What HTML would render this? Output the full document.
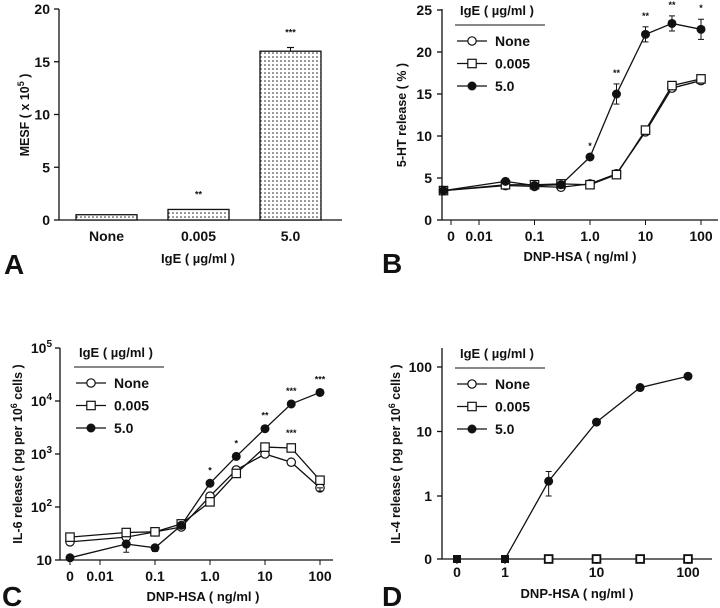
<!DOCTYPE html>
<html><head><meta charset="utf-8">
<style>
html,body{margin:0;padding:0;background:#fff;}
svg{display:block;font-family:"Liberation Sans",Arial,sans-serif;font-weight:bold;}
</style></head>
<body>
<svg id="fig" width="720" height="608" viewBox="0 0 720 608" xmlns="http://www.w3.org/2000/svg">
<defs>
<pattern id="dots" width="4" height="4" patternUnits="userSpaceOnUse">
<rect width="4" height="4" fill="#fff"/><circle cx="1" cy="1" r="0.8" fill="#222"/>
</pattern>
</defs>
</svg>
<script>
// ---------- data ----------
const barCats = ["None","0.005","5.0"];
const barVals = [0.5, 1.0, 16.0];
const barErr = [0, 0, 0.35];
const barStars = ["", "**", "***"];
const aTicks = [0,5,10,15,20];

const doseB = [0, 0.03, 0.1, 0.3, 1, 3, 10, 30, 100];
const bNone = [3.5, 4.1, 4.0, 3.9, 4.3, 5.5, 10.5, 15.7, 16.6];
const bLow = [3.5, 4.2, 4.2, 4.3, 4.2, 5.4, 10.7, 16.0, 16.8];
const bHigh = [3.5, 4.6, 4.1, 4.2, 7.5, 15.0, 22.1, 23.4, 22.7];
const bHighErr = [0, 0, 0, 0, 0, 1.2, 0.9, 0.9, 1.2];
const bStars = ["", "", "", "", "*", "**", "**", "**", "*"];
const bTicks = [0,5,10,15,20,25];
const logXTickLabels = ["0","0.01","0.1","1.0","10","100"];
const logXTickVals = [0,0.01,0.1,1,10,100];

const doseC = [0, 0.03, 0.1, 0.3, 1, 3, 10, 30, 100];
const cNone = [22, 27, 34, 42, 160, 500, 1000, 700, 230];
const cLow = [27, 33, 34, 48, 125, 430, 1350, 1300, 320];
const cHigh = [11, 20, 17, 45, 280, 900, 3000, 8800, 14500];
const cStars = ["", "", "", "", "*", "*", "**", "***", "***"];
const cTickExp = [1,2,3,4,5];

const doseD = [0, 1, 3, 10, 30, 100];
const dNone = [0, 0, 0, 0, 0, 0];
const dLow = [0, 0, 0, 0, 0, 0];
const dHigh = [0, 0, 1.7, 14, 48, 72];
const dErrLo = [0, 0, 1.0, 13, 46, 66];
const dErrHi = [0, 0, 2.4, 15.5, 51, 78];
const dTickLabels = ["0","1","10","100"];
const dTickVals = [0,1,10,100];
const dYTickVals = [0,1,10,100];

// ---------- helpers ----------
const svg = document.getElementById('fig');
const NS = "http://www.w3.org/2000/svg";
function mk(tag, attrs, parent){
  const e = document.createElementNS(NS, tag);
  for (const k in attrs) e.setAttribute(k, attrs[k]);
  (parent||svg).appendChild(e);
  return e;
}
function txt(x,y,s,size,anchor,parent){
  const t = mk('text',{x:x,y:y,'font-size':size,'text-anchor':anchor||'middle',fill:'#111'},parent);
  t.textContent = s;
  return t;
}
function line(x1,y1,x2,y2,parent,w){
  return mk('line',{x1:x1,y1:y1,x2:x2,y2:y2,stroke:'#111','stroke-width':w||1.3},parent);
}
function marker(kind,x,y,parent){
  let m;
  if(kind==='circle') m = mk('circle',{cx:x,cy:y,r:4.2,fill:'#fff',stroke:'#111','stroke-width':1.2},parent);
  else if(kind==='square') m = mk('rect',{x:x-4.2,y:y-4.2,width:8.4,height:8.4,fill:'#fff',stroke:'#111','stroke-width':1.2},parent);
  else m = mk('circle',{cx:x,cy:y,r:4.5,fill:'#111'},parent);
  return m;
}
function series(xs,ys,fx,fy,kind,name,parent){
  const g = mk('g',{},parent);
  
  
  const pts = xs.map((v,i)=>fx(v,i)+','+fy(ys[i]));
  mk('polyline',{points:pts.join(' '),fill:'none',stroke:'#111','stroke-width':1.3},g);
  xs.forEach((v,i)=>{
    const m = marker(kind,fx(v,i),fy(ys[i]),g);
    
    
  });
  return g;
}
function errBar(x,y1,y2,parent){
  line(x,y1,x,y2,parent,1);
  line(x-3,y1,x+3,y1,parent,1);
  line(x-3,y2,x+3,y2,parent,1);
}
function legend(x0,yTitle,parent){
  const g = mk('g',{},parent);
  
  
  txt(x0+5,yTitle,"IgE ( \u00b5g/ml )",13,'start',g);
  line(x0,yTitle+10,x0+90,yTitle+10,g,1);
  const ents = [["circle","None"],["square","0.005"],["filled","5.0"]];
  ents.forEach((e,i)=>{
    const y = yTitle+26+i*22.5;
    const eg = mk('g',{},g);
    
    
    line(x0+2,y,x0+32,y,eg,1.2);
    marker(e[0],x0+17,y,eg);
    txt(x0+40,y+5,e[1],14,'start',eg);
  });
}
function ylabel(x,y,parts,parent){
  const t = mk('text',{x:0,y:0,'font-size':12.5,'text-anchor':'middle',fill:'#111',transform:'translate('+x+','+y+') rotate(-90)'},parent);
  parts.forEach(p=>{
    const s = mk('tspan',{},t);
    if(p[1]){ s.setAttribute('font-size','9'); s.setAttribute('dy','-5'); }
    else if(p[2]){ s.setAttribute('dy','5'); }
    s.textContent = p[0];
  });
  return t;
}

// ---------- Panel A ----------
(function(){
  const g = mk('g',{});  
  const y = v => 220 - v*(211/20);
  const bx = i => 76 + i*92;
  line(59,9,59,220,g); line(59,220,342,220,g);
  aTicks.forEach(t=>{ line(54,y(t),59,y(t),g); txt(50,y(t)+5,String(t),14,'end',g); });
  barVals.forEach((v,i)=>{
    const r = mk('rect',{x:bx(i),y:y(v),width:61,height:220-y(v),fill:'url(#dots)',stroke:'#111','stroke-width':1.3},g);
    
    
    if(barErr[i]>0){ line(bx(i)+30.5,y(v),bx(i)+30.5,y(v+barErr[i]),g,1); line(bx(i)+27,y(v+barErr[i]),bx(i)+34,y(v+barErr[i]),g,1.2); }
    if(barStars[i]) txt(bx(i)+30.5,y(v+barErr[i])-12,barStars[i],9,'middle',g);
    txt(bx(i)+30.5,241,barCats[i],14,'middle',g);
  });
  txt(198,263,"IgE ( \u00b5g/ml )",13,'middle',g);
  ylabel(29,115,[["MESF ( x 10"],["5",true],[" )",false,true]],g);
  txt(4,274,"A",28,'start',g);
})();

// ---------- Panel B ----------
(function(){
  const g = mk('g',{});  
  const y = v => 220 - v*(210/25);
  const fx = v => v===0 ? 443.5 : 590 + 55.5*Math.log10(v);
  const tx = v => v===0 ? 451 : 590 + 55.5*Math.log10(v);
  line(442,9,442,220,g); line(442,220,718,220,g);
  bTicks.forEach(t=>{ line(437,y(t),442,y(t),g); txt(432,y(t)+5,String(t),14,'end',g); });
  logXTickVals.forEach((v,i)=>{ line(tx(v),220,tx(v),225,g,1); txt(tx(v),241,logXTickLabels[i],14,'middle',g); });
  series(doseB,bNone,fx,y,'circle','series-b-none',g);
  series(doseB,bLow,fx,y,'square','series-b-0005',g);
  series(doseB,bHigh,fx,y,'filled','series-b-5',g);
  doseB.forEach((d,i)=>{
    if(bHighErr[i]>0) errBar(fx(d),y(bHigh[i]-bHighErr[i]),y(bHigh[i]+bHighErr[i]),g);
    if(bStars[i]) txt(fx(d),y(bHigh[i]+bHighErr[i])-8,bStars[i],9,'middle',g);
  });
  legend(455,15,g);
  txt(580,261,"DNP-HSA ( ng/ml )",13,'middle',g);
  ylabel(406,115,[["5-HT release ( % )"]],g);
  txt(382,273,"B",28,'start',g);
})();

// ---------- Panel C ----------
(function(){
  const g = mk('g',{});  
  const y = v => 560 - 53*(Math.log10(v)-1);
  const fx = v => v===0 ? 70 : 210 + 55*Math.log10(v);
  line(60,348,60,560,g); line(60,560,333,560,g);
  cTickExp.forEach(e=>{
    line(55,y(Math.pow(10,e)),60,y(Math.pow(10,e)),g);
    const t = mk('text',{x:52,y:y(Math.pow(10,e))+5,'font-size':14,'text-anchor':'end',fill:'#111'},g);
    if(e===1){ t.textContent='10'; }
    else { const a=mk('tspan',{},t); a.textContent='10'; const b=mk('tspan',{'font-size':10,dy:-6},t); b.textContent=String(e); }
  });
  logXTickVals.forEach((v,i)=>{ line(fx(v),560,fx(v),565,g,1); txt(fx(v),581,logXTickLabels[i],14,'middle',g); });
  series(doseC,cNone,fx,y,'circle','series-c-none',g);
  series(doseC,cLow,fx,y,'square','series-c-0005',g);
  series(doseC,cHigh,fx,y,'filled','series-c-5',g);
  errBar(fx(0.03),y(14),y(20),g);
  errBar(fx(0.1),y(14.5),y(17),g);
  errBar(fx(100),y(200),y(230),g);
  doseC.forEach((d,i)=>{ if(cStars[i]) txt(fx(d),y(cHigh[i])-10,cStars[i],9,'middle',g); });
  txt(fx(30),y(1300)-12,"***",9,'middle',g);
  legend(74,357,g);
  txt(203,601,"DNP-HSA ( ng/ml )",13,'middle',g);
  ylabel(22,454,[["IL-6 release ( pg per 10"],["6",true],[" cells )",false,true]],g);
  txt(2,606,"C",28,'start',g);
})();

// ---------- Panel D ----------
(function(){
  const g = mk('g',{});  
  const y = v => v===0 ? 559 : 496 - 64.5*Math.log10(v);
  const fx = v => v===0 ? 457 : 505 + 91.5*Math.log10(v);
  line(442,348,442,559,g); line(442,559,712,559,g);
  dYTickVals.forEach(t=>{ line(437,y(t),442,y(t),g); txt(432,y(t)+5,String(t),14,'end',g); });
  dTickVals.forEach((v,i)=>{ line(fx(v),559,fx(v),564,g,1); txt(fx(v),577,dTickLabels[i],14,'middle',g); });
  const gN = mk('g',{},g);  
  doseD.forEach((d,i)=>{ if(d>1) marker('square',fx(d),y(dNone[i]),gN).setAttribute('transform',''); });
  const gL = mk('g',{},g);  
  mk('polyline',{points:doseD.map((d,i)=>fx(d)+','+y(dLow[i])).join(' '),fill:'none',stroke:'#111','stroke-width':1},gL);
  doseD.forEach((d,i)=>{ if(d>1){ mk('rect',{x:fx(d)-3.5,y:y(dLow[i])-3.5,width:7,height:7,fill:'#fff',stroke:'#111','stroke-width':1.1},gL);} });
  const gH = mk('g',{},g);  
  const pts = [];
  doseD.forEach((d,i)=>{ if(dHigh[i]>0 || d<=1) pts.push(fx(d)+','+y(dHigh[i])); });
  mk('polyline',{points:doseD.filter(d=>d>=1).map(d=>{const i=doseD.indexOf(d);return fx(d)+','+y(dHigh[i]);}).join(' '),fill:'none',stroke:'#111','stroke-width':1.3},gH);
  doseD.forEach((d,i)=>{
    if(d<=1) mk('rect',{x:fx(d)-4,y:y(dHigh[i])-4,width:8,height:8,fill:'#111'},gH);
    else marker('filled',fx(d),y(dHigh[i]),gH);
    if(dErrHi[i]>0) errBar(fx(d),y(dErrLo[i]),y(dErrHi[i]),gH);
  });
  legend(455,358,g);
  txt(577,598,"DNP-HSA ( ng/ml )",13,'middle',g);
  ylabel(400,454,[["IL-4 release ( pg per 10"],["6",true],[" cells )",false,true]],g);
  txt(382,606,"D",28,'start',g);
})();
</script>
</body></html>
